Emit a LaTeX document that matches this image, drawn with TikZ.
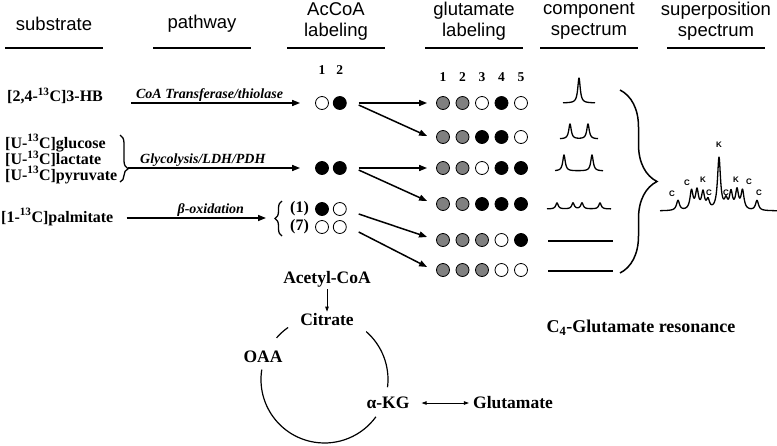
\documentclass[tikz,border=0pt]{standalone}
\usepackage{fontspec}
\setmainfont{Liberation Serif}
\newfontfamily\hdfont{Liberation Sans}
\usetikzlibrary{arrows.meta}
\usetikzlibrary{positioning}
\usetikzlibrary{decorations.pathreplacing}

\begin{document}
\begin{tikzpicture}[x=1pt, y=-1pt,
    declare function={lor(\x,\c,\h,\w)=\h/(1+(\x-\c)*(\x-\c)/(\w*\w));}]

        \useasboundingbox (0,0) rectangle (777,445);

        \def\g{4pt}

        % Carbon circles, texts and arrows
        \tikzset{
            atom/.style={circle, draw, line width=0.8pt, minimum size=13pt, inner sep=0pt},
            lab/.style={atom, fill=black},
            unl/.style={atom, fill=white},
            nat/.style={atom, fill=black!50},
            hd/.style={font=\hdfont\fontsize{18.5}{21}\selectfont, align=center},
            sub/.style={font=\bfseries\fontsize{16}{17}\selectfont, inner sep=1pt},
            pway/.style={font=\bfseries\itshape\fontsize{14}{16}\selectfont, inner sep=1pt},
            idx/.style={font=\bfseries\fontsize{13.5}{15}\selectfont, inner sep=0pt},
            met/.style={font=\bfseries\fontsize{17.5}{19}\selectfont, inner sep=2pt},
            pk/.style={font=\hdfont\bfseries\fontsize{8}{8}\selectfont, inner sep=0pt},
            arr/.style={line width=1.5pt, -{Triangle[length=8pt, width=6pt]}},
            thinarr/.style={line width=0.8pt, -{Triangle[length=5pt, width=3.5pt]}},
            brc/.style={line width=1.3pt, decorate},
            spec/.style={line width=1.3pt, line join=round},
        }

        % Column heads
        \foreach \n/\x/\y/\t in {1/54/24/substrate, 2/202/24/pathway,
            3/336/21/{AcCoA\\labeling}, 4/474/21/{glutamate\\labeling},
            5/589/21/{component\\spectrum}, 6/716/21/{superposition\\spectrum}}
        {
            \node[hd] (H\n) at (\x,\y) {\t};
            \draw[line width=2.6pt] (\x-49,48) -- (\x+49,48);
        }

        % Substrates
        \node[sub, anchor=west] (S1) at (6,96) {[2,4-\textsuperscript{13}C]3-HB};
        \node[sub, anchor=west] (S2) at (4,143) {[U-\textsuperscript{13}C]glucose};
        \node[sub, anchor=west] (S3) at (4,159) {[U-\textsuperscript{13}C]lactate};
        \node[sub, anchor=west] (S4) at (4,175) {[U-\textsuperscript{13}C]pyruvate};
        \node[sub, anchor=west] (S5) at (0,217) {[1-\textsuperscript{13}C]palmitate};

        % AcCoA labeling
        \node[unl] (A1) at (322,103) {};
        \node[lab, right=\g of A1] (A2) {};
        \node[lab] (B1) at (322,168) {};
        \node[lab, right=\g of B1] (B2) {};
        \node[lab] (P1) at (322,209) {};
        \node[unl, right=\g of P1] (P2) {};
        \node[unl] (Q1) at (322,227) {};
        \node[unl, right=\g of Q1] (Q2) {};
        \node[sub, left=5pt of P1] (NP) {(1)};
        \node[sub, left=5pt of Q1] (NQ) {(7)};
        \node[idx] (I1) at (A1 |- 0,70) {1};
        \node[idx] (I2) at (A2 |- 0,70) {2};

        % Glutamate labeling
        \foreach \row/\y/\pat in {1/103/{nat,nat,unl,lab,unl},
            2/137/{nat,nat,lab,lab,unl}, 3/168/{nat,nat,unl,lab,lab},
            4/204/{nat,nat,lab,lab,lab}, 5/240/{nat,nat,nat,unl,lab},
            6/270/{nat,nat,nat,unl,unl}}
            \foreach \s [count=\i] in \pat
                \node[\s] (G\row\i) at ({443+19.5*(\i-1)},\y) {};
        \foreach \i in {1,...,5}
            \node[idx] (J\i) at (G1\i |- 0,77) {\i};

        % Pathways
        \coordinate (T1) at (128,168);
        \coordinate (T2) at (275,218);
        \draw[brc, decoration={brace, amplitude=8pt, aspect=0.72}] (120,135) -- (120,182);
        \draw[brc, decoration={brace, amplitude=7pt}] (282,236) -- (282,201);
        \draw[arr, shorten <=27pt, shorten >=15pt] (S1.east |- A1.west) -- (A1.west)
            node[pway, pos=0.5, above] {CoA Transferase/thiolase};
        \draw[arr, shorten >=15pt] (T1) -- (B1.west)
            node[pway, pos=0.4, above] {Glycolysis/LDH/PDH};
        \draw[arr, shorten <=12pt, shorten >=9pt] (S5.east |- T2) -- (T2)
            node[pway, pos=0.6, above] {β-oxidation};

        \begin{scope}[arr]
            \draw ([xshift=12pt]A2.east) -- ([xshift=-9pt]G11.west);
            \draw ([xshift=12pt,yshift=-2pt]A2.east) -- ([xshift=-9pt,yshift=1pt]G21.west);
            \draw ([xshift=12pt]B2.east) -- ([xshift=-9pt]G31.west);
            \draw ([xshift=12pt,yshift=-2pt]B2.east) -- ([xshift=-9pt,yshift=3pt]G41.west);
            \draw ([xshift=12pt,yshift=-5pt]P2.east) -- ([xshift=-9pt,yshift=3pt]G51.west);
            \draw ([xshift=12pt,yshift=-5pt]Q2.east) -- ([xshift=-9pt,yshift=3pt]G61.west);
        \end{scope}

        % Component spectra
        \draw[spec] plot[domain=563:595, samples=129] (\x, {103-lor(\x,579,25,1.5)});
        \draw[spec] plot[domain=560:598, samples=153]
            (\x, {139-lor(\x,570,15,1.5)-lor(\x,588,15,1.5)});
        \draw[spec] plot[domain=555:603, samples=193]
            (\x, {171-lor(\x,564,16,1.5)-lor(\x,592,16,1.5)});
        \draw[spec] plot[domain=547:611, samples=257]
            (\x, {209-lor(\x,557,6,1.5)-lor(\x,573,6,1.5)-lor(\x,582,6,1.5)-lor(\x,600,6,1.5)});
        \draw[spec] (548,241) -- (613,241);
        \draw[spec] (548,271) -- (613,271);

        \draw[brc, line width=1.5pt, decoration={brace, amplitude=37pt}] (620,90) -- (620,273);

        % Superposition spectrum
        \draw[spec] plot[domain=660:777, samples=469]
            (\x, {211-lor(\x,678,10,1.8)-lor(\x,691.5,19,1.8)-lor(\x,697,19,1.8)
                -lor(\x,703,17,1.8)-lor(\x,708,9,1.8)-lor(\x,719,52,1.8)
                -lor(\x,726,9,1.8)-lor(\x,731,17,1.8)-lor(\x,737,19,1.8)
                -lor(\x,742.5,19,1.8)-lor(\x,757,10,1.8)});
        \node[pk] (c1) at (672,194) {C};
        \node[pk] (c2) at (687,183) {C};
        \node[pk] (k1) at (703,180) {K};
        \node[pk] (c3) at (709,193) {C};
        \node[pk] (k2) at (719,145) {K};
        \node[pk] (c4) at (726,193) {C};
        \node[pk] (k3) at (736,180) {K};
        \node[pk] (c5) at (749,182) {C};
        \node[pk] (c6) at (759,193) {C};

        \node[met, font=\bfseries\fontsize{18}{20}\selectfont] (Res) at (641,328)
            {C\textsubscript{4}-Glutamate resonance};

        % TCA cycle
        \coordinate (O) at (324.5,379.5);
        \node[met] (AcC) at (327,279) {Acetyl-CoA};
        \node[met] (Cit) at (327,320) {Citrate};
        \node[met] (OAA) at (263,357) {OAA};
        \node[met] (KG) at (388,403) {α-KG};
        \node[met] (Glu) at (513,403) {Glutamate};

        \draw[thinarr] (AcC) -- (Cit);
        \draw[thinarr, {Triangle[length=5pt, width=3.5pt]}-{Triangle[length=5pt, width=3.5pt]},
            shorten <=10pt, shorten >=2pt] (KG) -- (Glu);

        \begin{scope}[line width=1.2pt]
            \draw (O) ++(-125:63.5) arc[start angle=-125, end angle=-139, radius=63.5];
            \draw (O) ++(-171:63.5) arc[start angle=-171, end angle=-324, radius=63.5];
            \draw (O) ++(7:63.5) arc[start angle=7, end angle=-49, radius=63.5];
        \end{scope}

\end{tikzpicture}
\end{document}
